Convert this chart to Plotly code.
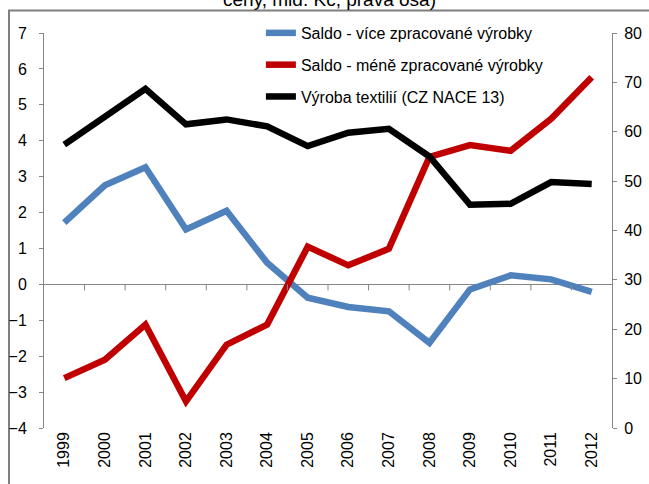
import plotly.graph_objects as go

years = ["1999", "2000", "2001", "2002", "2003", "2004", "2005", "2006",
         "2007", "2008", "2009", "2010", "2011", "2012"]
saldo_vice = [1.72, 2.76, 3.26, 1.53, 2.05, 0.60, -0.37, -0.63, -0.75, -1.63,
              -0.14, 0.25, 0.14, -0.21]
saldo_mene = [-2.61, -2.10, -1.12, -3.26, -1.68, -1.12, 1.05, 0.53, 0.99, 3.55,
              3.88, 3.72, 4.61, 5.77]
vyroba_textilii = [57.4, 63.1, 68.7, 61.5, 62.5, 61.1, 57.1, 59.8, 60.6, 55.0,
                   45.2, 45.4, 49.8, 49.4]

names = ["Saldo - více zpracované výrobky",
         "Saldo - méně zpracované výrobky",
         "Výroba textilií (CZ NACE 13)"]
title_text = "ceny, mld. Kč, pravá osa)"

FONT = "Arial, Liberation Sans, sans-serif"
AX = "#868686"

fig = go.Figure()
fig.add_trace(go.Scatter(x=years, y=saldo_vice, name=names[0], mode="lines",
                         line=dict(color="#4F81BD", width=6.5), legendgroup="a"))
fig.add_trace(go.Scatter(x=years, y=saldo_mene, name=names[1], mode="lines",
                         line=dict(color="#C00000", width=6.5), legendgroup="b"))
fig.add_trace(go.Scatter(x=years, y=vyroba_textilii, name=names[2], mode="lines",
                         line=dict(color="#000000", width=6.5), legendgroup="c",
                         yaxis="y2"))

# category boundary tick marks on the zero line
shapes = []
for i in range(len(years) - 1):
    shapes.append(dict(type="line", xref="x", yref="y", x0=i + 0.5, x1=i + 0.5,
                       ysizemode="pixel", yanchor=0, y0=0, y1=-6,
                       line=dict(color=AX, width=1)))
# outer chart frame (cropped)
shapes.append(dict(type="rect", xref="paper", yref="paper",
                   x0=-0.0616, x1=1.2, y0=-0.3, y1=1.057,
                   line=dict(color="#7f7f7f", width=2), layer="below"))

fig.update_layout(
    width=649, height=484,
    margin=dict(l=44, r=37, t=33, b=56, autoexpand=False),
    paper_bgcolor="white", plot_bgcolor="white",
    font=dict(family=FONT, size=16, color="#000000"),
    showlegend=True,
    legend=dict(xref="container", yref="container", x=0.402, y=0.967,
                xanchor="left", yanchor="top",
                bgcolor="rgba(0,0,0,0)", traceorder="grouped",
                tracegroupgap=8, font=dict(size=16)),
    xaxis=dict(type="category", range=[-0.5, len(years) - 0.5],
               showline=False, ticks="", tickangle=-90, showgrid=False,
               zeroline=False, tickfont=dict(size=16), automargin=False),
    yaxis=dict(range=[-4, 7], dtick=1, showline=True, linecolor=AX, linewidth=1,
               ticks="outside", ticklen=4, tickcolor=AX, showgrid=False,
               zeroline=True, zerolinecolor=AX, zerolinewidth=1,
               tickfont=dict(size=16), ticklabelstandoff=9, automargin=False),
    yaxis2=dict(range=[0, 80], dtick=10, overlaying="y", side="right",
                showline=True, linecolor=AX, linewidth=1, ticks="outside",
                ticklen=4, tickcolor=AX, showgrid=False, zeroline=False,
                tickfont=dict(size=16), ticklabelstandoff=4, automargin=False),
    shapes=shapes,
    annotations=[dict(text=title_text, xref="paper", yref="paper",
                      x=0.5035, y=1.054, xanchor="center", yanchor="bottom",
                      showarrow=False, font=dict(size=19, color="#000000"))],
)

fig.write_html("out.html",
               config={"displayModeBar": False},
               post_script="document.body.style.margin='0';")
